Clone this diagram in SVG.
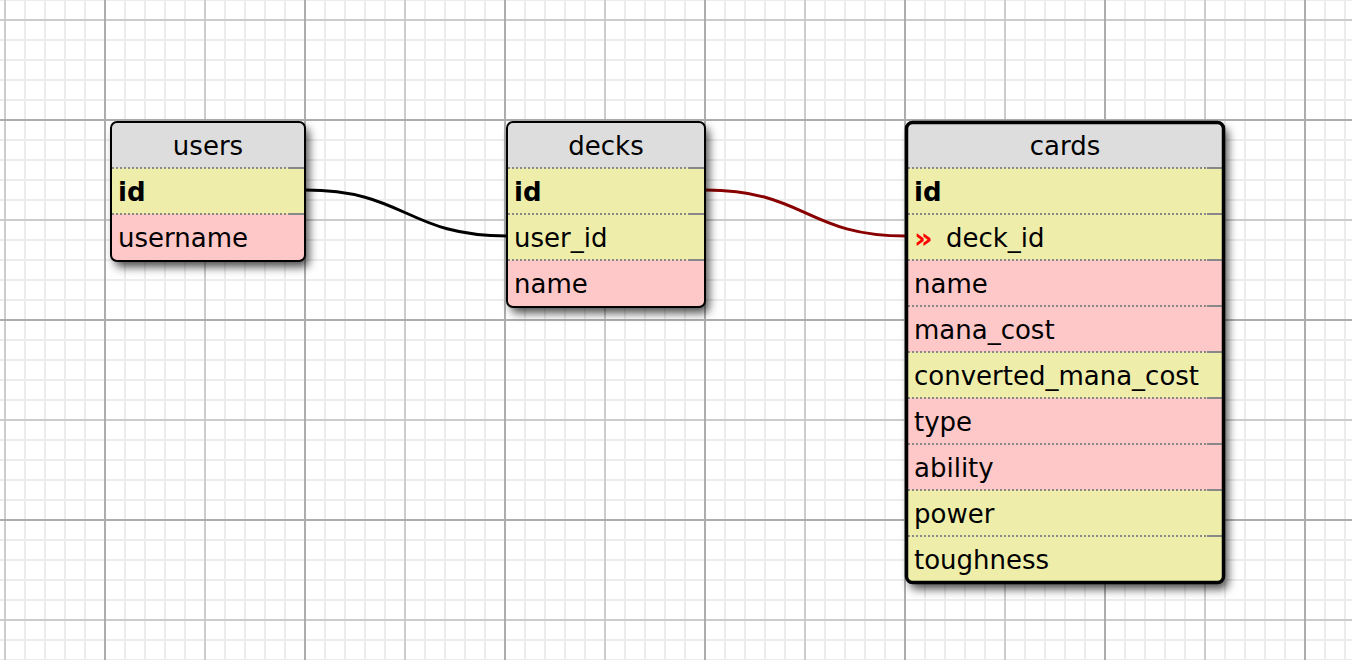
<svg xmlns="http://www.w3.org/2000/svg" width="1352" height="660" viewBox="0 0 1352 660">
  <style>
    .t { font-family: "DejaVu Sans", Verdana, sans-serif; font-size: 26px; fill: #000; }
    .h { text-anchor: middle; }
    .b { font-weight: bold; }
    .hdr { fill: #dddddd; }
    .yel { fill: #eeeeaa; }
    .pnk { fill: #ffc8c8; }
    .sep { stroke: #888888; stroke-width: 2; stroke-dasharray: 2 2; fill: none; }
    .sepe { stroke: #888888; stroke-width: 2; fill: none; }
    .brd { fill: none; stroke: #000; stroke-width: 2; }
    .sel { fill: none; stroke: #000; stroke-width: 3.5; }
    .conn { fill: none; stroke-width: 3; }
    .fk { font-family: "DejaVu Sans", Verdana, sans-serif; font-size: 29px; font-weight: bold; fill: #ff0000; }
  </style>
  <defs>
    <pattern id="minor" patternUnits="userSpaceOnUse" x="-5" y="-10" width="20" height="20">
      <rect x="9" y="0" width="2" height="20" fill="#ececec"/>
      <rect x="0" y="9" width="20" height="2" fill="#ececec"/>
    </pattern>
    <pattern id="major" patternUnits="userSpaceOnUse" x="-5" y="10" width="200" height="200">
      <rect x="9" y="0" width="2" height="200" fill="#cccccc"/>
      <rect x="0" y="9" width="200" height="2" fill="#cccccc"/>
      <rect x="109" y="0" width="2" height="200" fill="#adadad"/>
      <rect x="0" y="109" width="200" height="2" fill="#adadad"/>
    </pattern>
    <filter id="shadow" x="-20%" y="-20%" width="150%" height="150%">
      <feDropShadow dx="4" dy="6" stdDeviation="5" flood-color="#000" flood-opacity="0.7"/>
    </filter>
    <clipPath id="cu"><rect x="111" y="122" width="194" height="139" rx="6"/></clipPath>
    <clipPath id="cd"><rect x="507" y="122" width="198" height="185" rx="6"/></clipPath>
    <clipPath id="cc"><rect x="906" y="122" width="318" height="461" rx="6"/></clipPath>
  </defs>

  <rect width="1352" height="660" fill="#ffffff"/>
  <rect width="1352" height="660" fill="url(#minor)"/>
  <rect width="1352" height="660" fill="url(#major)"/>

  <g id="connectors">
    <path class="conn" stroke="#000000" d="M305,190 C406,190 406,236 507,236"/>
    <path class="conn" stroke="#880000" d="M705,190 C806,190 806,236 906,236"/>
  </g>

  <g id="users">
    <rect x="111" y="122" width="194" height="139" rx="6" fill="#dddddd" filter="url(#shadow)"/>
    <g clip-path="url(#cu)">
      <rect class="yel" x="111" y="168" width="194" height="46"/>
      <rect class="pnk" x="111" y="214" width="194" height="47"/>
    </g>
    <path class="sep" d="M112,168 H289 M112,214 H289"/>
    <path class="sepe" d="M289,168 H304 M289,214 H304"/>
    <rect class="brd" x="111" y="122" width="194" height="139" rx="6"/>
    <text class="t h" x="208" y="155">users</text>
    <text class="t b" x="118" y="201">id</text>
    <text class="t" x="118" y="247">username</text>
  </g>

  <g id="decks">
    <rect x="507" y="122" width="198" height="185" rx="6" fill="#dddddd" filter="url(#shadow)"/>
    <g clip-path="url(#cd)">
      <rect class="yel" x="507" y="168" width="198" height="92"/>
      <rect class="pnk" x="507" y="260" width="198" height="47"/>
    </g>
    <path class="sep" d="M508,168 H689 M508,214 H689 M508,260 H689"/>
    <path class="sepe" d="M689,168 H704 M689,214 H704 M689,260 H704"/>
    <rect class="brd" x="507" y="122" width="198" height="185" rx="6"/>
    <text class="t h" x="606" y="155">decks</text>
    <text class="t b" x="514" y="201">id</text>
    <text class="t" x="514" y="247">user_id</text>
    <text class="t" x="514" y="293">name</text>
  </g>

  <g id="cards">
    <rect x="906" y="122" width="318" height="461" rx="6" fill="#dddddd" filter="url(#shadow)"/>
    <g clip-path="url(#cc)">
      <rect class="yel" x="906" y="168" width="318" height="92"/>
      <rect class="pnk" x="906" y="260" width="318" height="92"/>
      <rect class="yel" x="906" y="352" width="318" height="46"/>
      <rect class="pnk" x="906" y="398" width="318" height="92"/>
      <rect class="yel" x="906" y="490" width="318" height="93"/>
    </g>
    <path class="sep" d="M908,168 H1207 M908,214 H1207 M908,260 H1207 M908,306 H1207 M908,352 H1207 M908,398 H1207 M908,444 H1207 M908,490 H1207 M908,536 H1207"/>
    <path class="sepe" d="M1207,168 H1222 M1207,214 H1222 M1207,260 H1222 M1207,306 H1222 M1207,352 H1222 M1207,398 H1222 M1207,444 H1222 M1207,490 H1222 M1207,536 H1222"/>
    <rect class="sel" x="906.5" y="122.5" width="317" height="460" rx="6"/>
    <text class="t h" x="1065" y="155">cards</text>
    <text class="t b" x="914" y="201">id</text>
    <text class="fk" x="914" y="248">»</text>
    <text class="t" x="946" y="247">deck_id</text>
    <text class="t" x="914" y="293">name</text>
    <text class="t" x="914" y="339">mana_cost</text>
    <text class="t" x="914" y="385">converted_mana_cost</text>
    <text class="t" x="914" y="431">type</text>
    <text class="t" x="914" y="477">ability</text>
    <text class="t" x="914" y="523">power</text>
    <text class="t" x="914" y="569">toughness</text>
  </g>
</svg>
